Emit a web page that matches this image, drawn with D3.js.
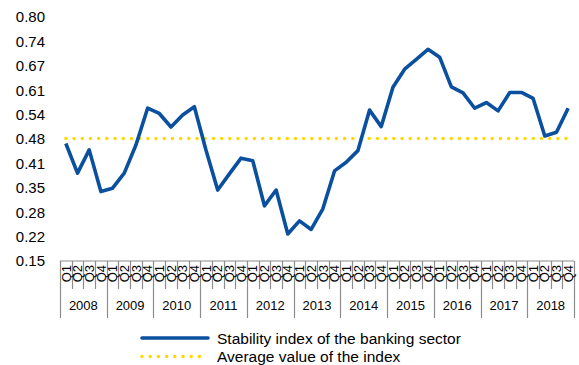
<!DOCTYPE html>
<html><head><meta charset="utf-8">
<script src="https://cdn.jsdelivr.net/npm/d3@7"></script>
<style>body{margin:0;background:#fff}svg{display:block;font-family:"Liberation Sans",Arial,sans-serif}</style>
</head><body>
<script>
const years = ["2008","2009","2010","2011","2012","2013","2014","2015","2016","2017","2018"];
const quarters = ["Q1","Q2","Q3","Q4"];
const stabilityIndex = [
  0.463,0.384,0.446,0.335,
  0.344,0.384,0.459,0.557,
  0.543,0.507,0.539,0.561,
  0.445,0.339,0.382,0.424,
  0.417,0.297,0.339,0.222,
  0.257,0.234,0.289,0.390,
  0.413,0.444,0.552,0.508,
  0.613,0.661,0.687,0.714,
  0.693,0.614,0.598,0.557,
  0.572,0.550,0.599,0.599,
  0.583,0.483,0.493,0.557
];
const averageValue = 0.476;
const yTicks = [0.15,0.215,0.28,0.345,0.41,0.475,0.54,0.605,0.67,0.735,0.80];
const yTickLabels = ["0.15","0.22","0.28","0.35","0.41","0.48","0.54","0.61","0.67","0.74","0.80"];
const seriesNames = ["Stability index of the banking sector","Average value of the index"];

const W=579,H=365;
const blue="#0b4f9f", yellow="#ffd800", grey="#8c8c8c";
const cats=[];
years.forEach(y=>quarters.forEach(q=>cats.push(y+"-"+q)));

const svg=d3.select("body").append("svg").attr("width",W).attr("height",H);
const x=d3.scaleBand().domain(cats).range([60,574]).padding(0);
const y=d3.scaleLinear().domain([0.15,0.80]).range([261,17]);
const cx=c=>x(c)+x.bandwidth()/2;

// y labels
svg.append("g").selectAll("text").data(yTicks).join("text")
  .attr("x",45).attr("y",d=>y(d)).attr("dy","0.36em")
  .attr("text-anchor","end").attr("font-size",15).attr("fill","#000")
  .text((d,i)=>yTickLabels[i]);

// x axis
const ax=svg.append("g").attr("stroke",grey).attr("stroke-width",1.2);
ax.append("line").attr("x1",60).attr("x2",574).attr("y1",261).attr("y2",261);
cats.forEach((c,i)=>{
  const xx=Math.round(x(c))+0.5;
  ax.append("line").attr("x1",xx).attr("x2",xx).attr("y1",261).attr("y2",i%4===0?318:289);
});
ax.append("line").attr("x1",574.5).attr("x2",574.5).attr("y1",261).attr("y2",318);

svg.append("g").selectAll("text").data(cats).join("text")
  .attr("transform",d=>`translate(${cx(d)},265) rotate(-90)`)
  .attr("dy","0.36em").attr("text-anchor","end").attr("font-size",13).attr("fill","#000")
  .text(d=>d.split("-")[1]);

svg.append("g").selectAll("text").data(years).join("text")
  .attr("x",d=>x(d+"-Q1")+x.bandwidth()*2).attr("y",305).attr("dy","0.36em")
  .attr("text-anchor","middle").attr("font-size",13).attr("fill","#000").text(d=>d);

// average line
svg.append("line").attr("x1",cx(cats[0])).attr("x2",cx(cats[cats.length-1]))
  .attr("y1",y(averageValue)).attr("y2",y(averageValue))
  .attr("stroke",yellow).attr("stroke-width",3.5).attr("stroke-linecap","round")
  .attr("stroke-dasharray","0 8.2");

// series line
const line=d3.line().x((d,i)=>cx(cats[i])).y(d=>y(d));
svg.append("path").datum(stabilityIndex).attr("d",line)
  .attr("fill","none").attr("stroke",blue).attr("stroke-width",3.6).attr("stroke-linejoin","round");

// legend
const lg=svg.append("g");
lg.append("line").attr("x1",142).attr("x2",208).attr("y1",338).attr("y2",338)
  .attr("stroke",blue).attr("stroke-width",3.6).attr("stroke-linecap","round");
lg.append("line").attr("x1",142).attr("x2",204).attr("y1",356.5).attr("y2",356.5)
  .attr("stroke",yellow).attr("stroke-width",3.5).attr("stroke-linecap","round").attr("stroke-dasharray","0 8.2");
lg.selectAll("text").data(seriesNames).join("text")
  .attr("x",217).attr("y",(d,i)=>338+i*18.5).attr("dy","0.36em")
  .attr("font-size",15.5).attr("fill","#000").text(d=>d);
</script>
</body></html>
